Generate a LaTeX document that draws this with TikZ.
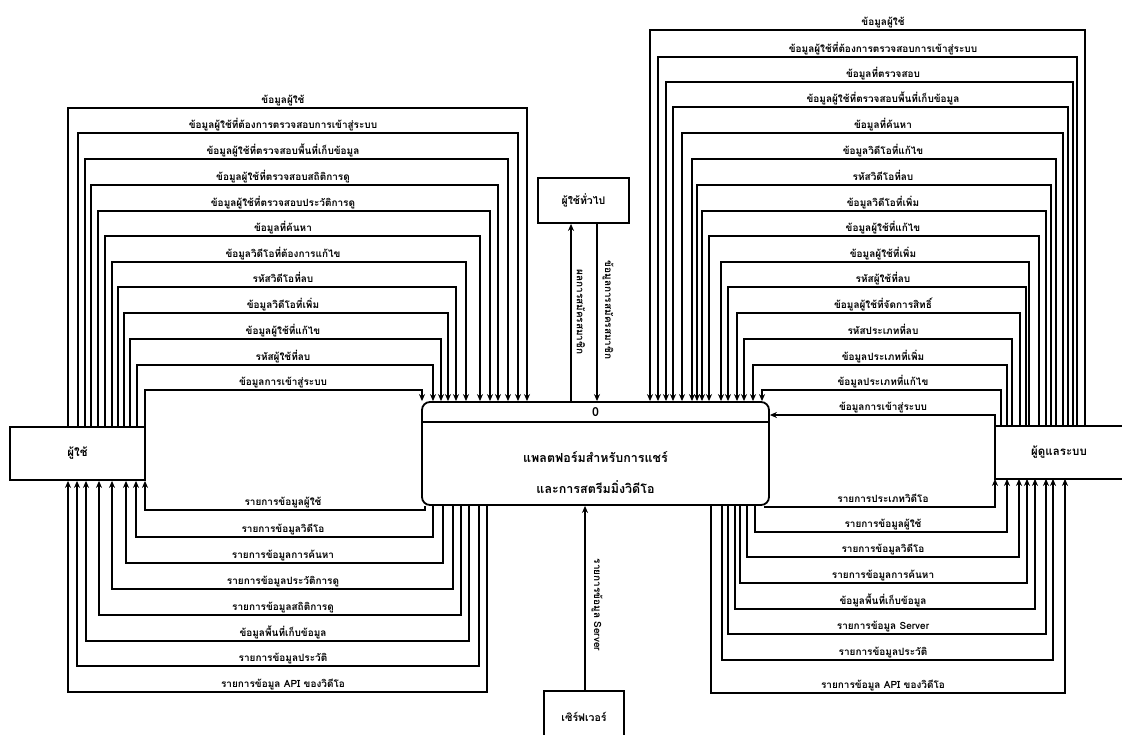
\documentclass[tikz,border=0pt]{standalone}
\usepackage{fontspec}
\setmainfont[Script=Thai]{Loma}
\usetikzlibrary{arrows.meta}
\begin{document}
\begin{tikzpicture}[x=1pt,y=-1pt,
  line width=1.8pt,
  flow/.style={line width=1.8pt,-{Stealth[length=7pt,width=6pt]}},
  ent/.style={draw,line width=1.8pt,inner sep=0pt,font=\fontsize{11.5}{13}\selectfont\bfseries},
  lbl/.style={anchor=base,inner sep=0pt,font=\fontsize{10}{12}\selectfont\bfseries},
  vlbl/.style={anchor=center,inner sep=0pt,rotate=-90,font=\fontsize{10}{12}\selectfont\bfseries},
  ptext/.style={inner sep=0pt,font=\fontsize{12.5}{14}\selectfont\bfseries}]
\useasboundingbox[fill=white] (0,0) rectangle (1122,734);

% external entities and the process
\node[ent,minimum width=135pt,minimum height=53pt] (user) at (77.5,453.5) {ผู้ใช้};
\node[inner sep=0pt,minimum width=126pt,minimum height=51pt,font=\fontsize{11.5}{13}\selectfont\bfseries] (admin) at (1059,452.5) {ผู้ดูแลระบบ};
\draw (admin.north east) -- (admin.north west) -- (admin.south west) -- (admin.south east);
\node[ent,minimum width=91pt,minimum height=45pt,font=\fontsize{10.5}{12}\selectfont\bfseries] (gen) at (583.5,200.5) {ผู้ใช้ทั่วไป};
\node[inner sep=0pt,minimum width=78pt,minimum height=42pt] (server) at (584,713) {};
\draw (server.south west) -- (server.north west) -- (server.north east) -- (server.south east);
\node[ptext,font=\fontsize{10.5}{12}\selectfont\bfseries] at (584,717) {เซิร์ฟเวอร์};

\node[draw,rounded corners=8pt,inner sep=0pt,minimum width=347pt,minimum height=103pt] (proc) at (595.5,453.5) {};
\draw (proc.west |- 0,422) -- (proc.east |- 0,422);
\node[ptext] at (595.5,412.5) {0};
\node[ptext] at (595.5,457) {แพลตฟอร์มสำหรับการแชร์};
\node[ptext] at (595.5,487) {และการสตรีมมิ่งวิดีโอ};

% flows from the user into the process
\foreach \a/\b/\y/\t in {
  68/527/108/ข้อมูลผู้ใช้,
  78/518/133/ข้อมูลผู้ใช้ที่ต้องการตรวจสอบการเข้าสู่ระบบ,
  85/508/159/ข้อมูลผู้ใช้ที่ตรวจสอบพื้นที่เก็บข้อมูล,
  91/498/185/ข้อมูลผู้ใช้ที่ตรวจสอบสถิติการดู,
  98/490/211/ข้อมูลผู้ใช้ที่ตรวจสอบประวัติการดู,
  105/480/236/ข้อมูลที่ค้นหา,
  112/466/262/ข้อมูลวิดีโอที่ต้องการแก้ไข,
  118/456/287/รหัสวิดีโอที่ลบ,
  124/448/313/ข้อมูลวิดีโอที่เพิ่ม,
  130/441/339/ข้อมูลผู้ใช้ที่แก้ไข,
  137/433/365/รหัสผู้ใช้ที่ลบ,
  145/422/390/ข้อมูลการเข้าสู่ระบบ}{
  \draw[flow] (user.north -| \a,0) |- (\b,\y) -- (proc.north -| \b,0);
  \node[lbl] at (283,\y-5) {\t};
}

% flows from the process back to the user
\foreach \a/\b/\y/\t in {
  425/145/510/รายการข้อมูลผู้ใช้,
  433/136/537/รายการข้อมูลวิดีโอ,
  443/126/563/รายการข้อมูลการค้นหา,
  453/112/589/รายการข้อมูลประวัติการดู,
  461/99/615/รายการข้อมูลสถิติการดู,
  469/86/641/ข้อมูลพื้นที่เก็บข้อมูล,
  479/77/666/รายการข้อมูลประวัติ,
  487/68/692/รายการข้อมูล API ของวิดีโอ}{
  \draw[flow] (proc.south -| \a,0) |- (\b,\y) -- (user.south -| \b,0);
  \node[lbl] at (283,\y-5) {\t};
}

% flows from the administrator into the process
\foreach \a/\b/\y/\t in {
  1085/650/30/ข้อมูลผู้ใช้,
  1077/658/57/ข้อมูลผู้ใช้ที่ต้องการตรวจสอบการเข้าสู่ระบบ,
  1073/666/82/ข้อมูลที่ตรวจสอบ,
  1068/673/107/ข้อมูลผู้ใช้ที่ตรวจสอบพื้นที่เก็บข้อมูล,
  1063/682/133/ข้อมูลที่ค้นหา,
  1056/692/159/ข้อมูลวิดีโอที่แก้ไข,
  1051/697/185/รหัสวิดีโอที่ลบ,
  1046/702/211/ข้อมูลวิดีโอที่เพิ่ม,
  1039/709/236/ข้อมูลผู้ใช้ที่แก้ไข,
  1029/721/262/ข้อมูลผู้ใช้ที่เพิ่ม,
  1026/728/287/รหัสผู้ใช้ที่ลบ,
  1020/737/313/ข้อมูลผู้ใช้ที่จัดการสิทธิ์,
  1012/744/339/รหัสประเภทที่ลบ,
  1007/753/365/ข้อมูลประเภทที่เพิ่ม,
  1001/762/390/ข้อมูลประเภทที่แก้ไข}{
  \draw[flow] (admin.north -| \a,0) |- (\b,\y) -- (proc.north -| \b,0);
  \node[lbl] at (883,\y-5) {\t};
}
\draw[flow] (admin.north west) |- (proc.east |- 0,415);
\node[lbl] at (883,410) {ข้อมูลการเข้าสู่ระบบ};

% flows from the process back to the administrator
\foreach \a/\b/\y/\t in {
  765/995/507/รายการประเภทวิดีโอ,
  755/1007/532/รายการข้อมูลผู้ใช้,
  747/1019/557/รายการข้อมูลวิดีโอ,
  740/1027/583/รายการข้อมูลการค้นหา,
  735/1035/609/ข้อมูลพื้นที่เก็บข้อมูล,
  728/1046/634/รายการข้อมูล Server,
  722/1053/660/รายการข้อมูลประวัติ,
  711/1065/693/รายการข้อมูล API ของวิดีโอ}{
  \draw[flow] (proc.south -| \a,0) |- (\b,\y) -- (admin.south -| \b,0);
  \node[lbl] at (883,\y-5) {\t};
}

% general user and server
\draw[flow] (proc.north -| 571,0) -- (gen.south -| 571,0);
\draw[flow] (gen.south -| 597,0) -- (proc.north -| 597,0);
\node[vlbl] at (581,312) {ผลการสมัครสมาชิก};
\node[vlbl] at (608,310) {ข้อมูลการสมัครสมาชิก};
\draw[flow] (server.north -| 585,0) -- (proc.south -| 585,0);
\node[vlbl] at (597,605) {รายการข้อมูล Server};
\end{tikzpicture}
\end{document}
